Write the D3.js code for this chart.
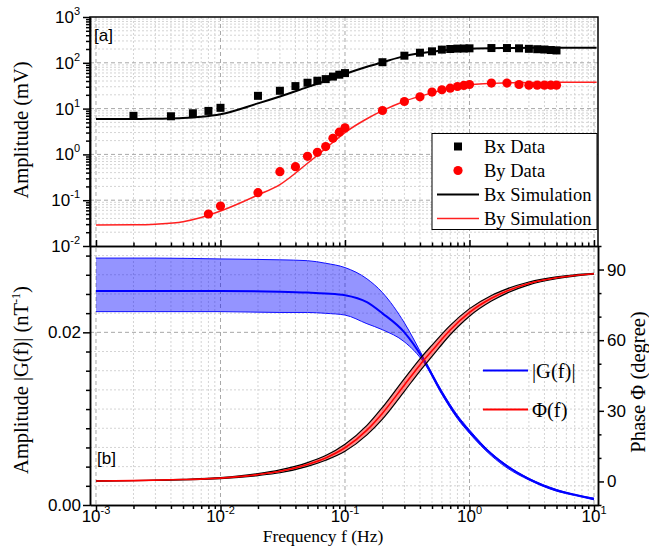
<!DOCTYPE html>
<html>
<head>
<meta charset="utf-8">
<script src="https://cdn.jsdelivr.net/npm/d3@7/dist/d3.min.js"></script>
<style>
  body { margin: 0; background: #fff; }
  svg { display: block; }
</style>
</head>
<body>
<div id="zone"></div>
<script>
// ---------- données ----------

// panneau [a] : points mesurés
var freqData = [0.002, 0.004, 0.006, 0.008, 0.01, 0.02, 0.03, 0.04, 0.05, 0.06, 0.07, 0.08, 0.09, 0.1,
                0.2, 0.3, 0.4, 0.5, 0.6, 0.7, 0.8, 0.9, 1, 1.5, 2, 2.5, 3, 3.5, 4, 4.5, 5];
var ampBx = [6.95, 6.8, 7.9, 8.9, 10.4, 19, 24.5, 31, 36.7, 40.6, 44, 50, 55, 59.6,
             103, 143, 166, 178, 194, 200, 204, 205, 207, 210, 210, 207, 202, 198, 195, 190, 186];
var freqBy = [0.008, 0.01, 0.02, 0.03, 0.04, 0.05, 0.06, 0.07, 0.08, 0.09, 0.1,
              0.2, 0.3, 0.4, 0.5, 0.6, 0.7, 0.8, 0.9, 1, 1.5, 2, 2.5, 3, 3.5, 4, 4.5, 5];
var ampBy = [0.05, 0.0746, 0.146, 0.42, 0.54, 0.91, 1.11, 1.48, 2.25, 3.05, 3.8,
             9.1, 14.3, 18.1, 22.9, 25.8, 27.9, 30.4, 32, 33.6, 36, 36, 33.6, 32.5, 32.5, 32.5, 32.5, 32.5];

// panneau [a] : courbes simulées
var freqSim = [0.001, 0.002, 0.003, 0.005, 0.007, 0.01, 0.02, 0.03, 0.05, 0.07, 0.1,
               0.15, 0.2, 0.3, 0.5, 0.7, 1, 2, 3, 5, 10.5];
var simBx = [5.9, 5.9, 6.0, 6.2, 6.6, 7.5, 13, 18.4, 29.5, 40, 57,
             82, 103, 140, 174, 192, 202, 210, 212, 213, 213];
var simBy = [0.0286, 0.029, 0.030, 0.034, 0.042, 0.058, 0.13, 0.22, 0.64, 1.35, 3.0,
             6.0, 9.0, 14.5, 22, 28, 33, 36.5, 37.3, 37.6, 37.8];

// panneau [b] : |G(f)| avec sa bande
var freqG = [0.001, 0.003, 0.01, 0.03, 0.05, 0.07, 0.1, 0.15, 0.2, 0.3, 0.43, 0.6, 0.8, 1,
             1.5, 2, 3, 5, 7, 10];
var gMid = [0.0248, 0.0248, 0.0248, 0.0247, 0.0246, 0.0245, 0.0243, 0.0235, 0.0222, 0.0200, 0.0168,
            0.0130, 0.0102, 0.0085, 0.0059, 0.0045, 0.0030, 0.0017, 0.0012, 0.0007];
var gHaut = [0.0286, 0.0286, 0.0285, 0.0284, 0.0283, 0.0280, 0.0275, 0.0262, 0.0246, 0.0211, 0.0170,
             0.0132, 0.0104, 0.0087, 0.0060, 0.0046, 0.0031, 0.0018, 0.0012, 0.0008];
var gBas = [0.0224, 0.0224, 0.0224, 0.0223, 0.0223, 0.0222, 0.0220, 0.0210, 0.0203, 0.0189, 0.0165,
            0.0128, 0.0100, 0.0083, 0.0057, 0.0043, 0.0029, 0.0016, 0.0011, 0.0006];

// panneau [b] : phase avec sa bande
var freqPhase = [0.001, 0.002, 0.005, 0.01, 0.02, 0.03, 0.05, 0.07, 0.1, 0.15, 0.2, 0.3, 0.4, 0.5,
                 0.7, 1, 1.5, 2, 3, 5, 7, 10];
var phaseMid = [0.2, 0.35, 0.8, 1.4, 2.9, 4.3, 7.2, 10.0, 14.3, 21.8, 29.0, 41.0, 49.5, 55.5,
                64.3, 71.8, 77.8, 80.9, 84.1, 86.5, 87.5, 88.2];
var phaseHaut = [0.22, 0.4, 0.9, 1.6, 3.3, 4.9, 8.0, 11.0, 15.8, 23.8, 31.5, 43.7, 52.1, 57.9,
                 66.3, 73.4, 79.0, 81.8, 84.7, 86.9, 87.8, 88.4];
var phaseBas = [0.18, 0.3, 0.7, 1.2, 2.5, 3.7, 6.4, 9.0, 12.8, 19.8, 26.5, 38.3, 46.9, 53.1,
                62.3, 70.2, 76.6, 80.0, 83.5, 86.1, 87.2, 88.0];

// graduations
var decadesX = [-3, -2, -1, 0, 1];
var decadesA = [-2, -1, 0, 1, 2, 3];
var ticksG = [0, 0.02];
var labelsG = ["0.00", "0.02"];
var ticksPhase = [0, 30, 60, 90];
var legendeA = ["Bx Data", "By Data", "Bx Simulation", "By Simulation"];
var legendeB = ["|G(f)|", "\u03A6(f)"];

(function() {
  "use strict";

  var largeur = 649, hauteur = 547;
  var gauche = 90, droite = 598;
  var hautA = 17, basA = 246;   // panneau [a]
  var hautB = 246, basB = 505;  // panneau [b]

  var policeSans = "'Liberation Sans', Arial, sans-serif";
  var policeSerif = "'Liberation Serif', 'Times New Roman', 'DejaVu Serif', serif";

  var svg = d3.select("#zone").append("svg")
    .attr("width", largeur)
    .attr("height", hauteur);

  // échelles
  var x = d3.scaleLog().domain([0.000895, 10.77]).range([gauche, droite]);
  var yA = d3.scaleLog().domain([0.01, 1000]).range([basA, hautA]);
  var yG = d3.scaleLinear().domain([0, 0.03]).range([basB, hautB]);
  var yP = d3.scaleLinear().domain([-10, 100]).range([basB, hautB]);

  var majeursX = decadesX.map(function(k) { return Math.pow(10, k); });
  var majeursA = decadesA.map(function(k) { return Math.pow(10, k); });
  var mineursX = mineursLog(-4, 1, x.domain());
  var mineursA = mineursLog(-2, 3, yA.domain());
  var pasG = 0.02 / 9;
  var mineursG = d3.range(1, 14).map(function(i) { return i * pasG; }).filter(function(v) { return Math.abs(v - 0.02) > 1e-6; });
  var mineursP = d3.range(-10, 101, 10).filter(function(v) { return ticksPhase.indexOf(v) < 0; });

  // ---------- grilles ----------
  var grille = svg.append("g").attr("id", "grille");
  grilleV(grille, mineursX, hautA, basB, "#d4d4d4", "2,2");
  grilleV(grille, majeursX, hautA, basB, "#a8a8a8", "4,3");
  grilleH(grille, mineursA.map(yA), "#d4d4d4", "2,2");
  grilleH(grille, majeursA.slice(1, -1).map(yA), "#a8a8a8", "4,3");
  grilleH(grille, mineursG.map(yG), "#d4d4d4", "2,2");
  grilleH(grille, [yG(0.02)], "#a8a8a8", "4,3");

  // ---------- panneau [a] ----------
  var ligneA = function(valeurs) {
    return d3.line()
      .x(function(d, i) { return x(freqSim[i]); })
      .y(function(d) { return yA(d); })
      .curve(d3.curveMonotoneX)(valeurs);
  };
  svg.append("path").attr("d", ligneA(simBx)).attr("fill", "none").attr("stroke", "#000").attr("stroke-width", 2);
  svg.append("path").attr("d", ligneA(simBy)).attr("fill", "none").attr("stroke", "#ff2020").attr("stroke-width", 1.5);

  svg.append("g").selectAll("rect")
    .data(ampBx).enter().append("rect")
    .attr("x", function(d, i) { return x(freqData[i]) - 4; })
    .attr("y", function(d) { return yA(d) - 4; })
    .attr("width", 8).attr("height", 8)
    .attr("fill", "#000");

  svg.append("g").selectAll("circle")
    .data(ampBy).enter().append("circle")
    .attr("cx", function(d, i) { return x(freqBy[i]); })
    .attr("cy", function(d) { return yA(d); })
    .attr("r", 4.6)
    .attr("fill", "#ff0000");

  // ---------- panneau [b] ----------
  var bandeG = d3.area()
    .x(function(d, i) { return x(freqG[i]); })
    .y0(function(d, i) { return yG(gBas[i]); })
    .y1(function(d) { return yG(d); })
    .curve(d3.curveMonotoneX);
  var ligneG = d3.line()
    .x(function(d, i) { return x(freqG[i]); })
    .y(function(d) { return yG(d); })
    .curve(d3.curveMonotoneX);

  svg.append("path").attr("d", bandeG(gHaut)).attr("fill", "#0000ff").attr("fill-opacity", 0.42);
  svg.append("path").attr("d", ligneG(gHaut)).attr("fill", "none").attr("stroke", "#1010ff").attr("stroke-width", 1);
  svg.append("path").attr("d", ligneG(gBas)).attr("fill", "none").attr("stroke", "#1010ff").attr("stroke-width", 1);
  svg.append("path").attr("d", ligneG(gMid)).attr("fill", "none").attr("stroke", "#0000ff").attr("stroke-width", 2);

  var bandeP = d3.area()
    .x(function(d, i) { return x(freqPhase[i]); })
    .y0(function(d, i) { return yP(phaseBas[i]); })
    .y1(function(d) { return yP(d); })
    .curve(d3.curveMonotoneX);
  var ligneP = d3.line()
    .x(function(d, i) { return x(freqPhase[i]); })
    .y(function(d) { return yP(d); })
    .curve(d3.curveMonotoneX);

  svg.append("path").attr("d", bandeP(phaseHaut)).attr("fill", "#ff0000").attr("fill-opacity", 0.45);
  svg.append("path").attr("d", ligneP(phaseHaut)).attr("fill", "none").attr("stroke", "#000").attr("stroke-width", 1.2);
  svg.append("path").attr("d", ligneP(phaseBas)).attr("fill", "none").attr("stroke", "#000").attr("stroke-width", 1.2);
  svg.append("path").attr("d", ligneP(phaseMid)).attr("fill", "none").attr("stroke", "#ff0000").attr("stroke-width", 1.6);

  // ---------- axes ----------
  // panneau [a] gauche
  axe(d3.axisLeft(yA).tickValues(majeursA).tickSize(7), gauche, 0);
  axe(d3.axisLeft(yA).tickValues(mineursA).tickSize(4), gauche, 0);
  // axe partagé entre les deux panneaux, graduations vers le haut
  axe(d3.axisTop(x).tickValues(majeursX).tickSize(6), 0, basA);
  axe(d3.axisTop(x).tickValues(mineursX).tickSize(3.5), 0, basA);
  // panneau [b]
  axe(d3.axisBottom(x).tickValues(majeursX).tickSize(7), 0, basB);
  axe(d3.axisBottom(x).tickValues(mineursX).tickSize(4), 0, basB);
  axe(d3.axisLeft(yG).tickValues(ticksG).tickSize(7), gauche, 0);
  axe(d3.axisLeft(yG).tickValues(mineursG).tickSize(4), gauche, 0);
  axe(d3.axisRight(yP).tickValues(ticksPhase).tickSize(6), droite, 0);
  axe(d3.axisRight(yP).tickValues(mineursP).tickSize(3.5), droite, 0);

  // cadre du haut
  svg.append("path")
    .attr("d", "M" + gauche + "," + basA + "V" + hautA + "H" + droite + "V" + basA)
    .attr("fill", "none").attr("stroke", "#000").attr("stroke-width", 1.5);

  // étiquettes des graduations
  decadesA.forEach(function(k) {
    puissance(gauche - 10, yA(Math.pow(10, k)) + 6, k, "end");
  });
  decadesX.forEach(function(k) {
    puissance(x(Math.pow(10, k)), basB + 17, k, "middle");
  });
  ticksG.forEach(function(v, i) {
    texte(gauche - 9, yG(v) + 6, labelsG[i], policeSans, 17).attr("text-anchor", "end");
  });
  ticksPhase.forEach(function(v) {
    texte(droite + 9, yP(v) + 6, v, policeSans, 17);
  });

  // titres des axes
  texte(0, 0, "Amplitude (mV)", policeSerif, 20.5)
    .attr("transform", "translate(28,130) rotate(-90)")
    .attr("text-anchor", "middle");

  var titreG = texte(0, 0, "", policeSerif, 20.5)
    .attr("transform", "translate(28,380) rotate(-90)")
    .attr("text-anchor", "middle");
  titreG.append("tspan").text("Amplitude |G(f)| (nT");
  titreG.append("tspan").attr("dy", -8).style("font-size", "12px").text("-1");
  titreG.append("tspan").attr("dy", 8).text(")");

  texte(0, 0, "Phase \u03A6 (degree)", policeSerif, 20.5)
    .attr("transform", "translate(645,382) rotate(-90)")
    .attr("text-anchor", "middle");

  texte(323, 542, "Frequency f (Hz)", policeSerif, 17.5)
    .attr("text-anchor", "middle");

  // repères [a] et [b]
  texte(94, 41, "[a]", policeSans, 17);
  texte(97, 464, "[b]", policeSans, 17);

  // ---------- légende [a] ----------
  var legA = svg.append("g").attr("id", "legendeA");
  legA.append("rect")
    .attr("x", 432).attr("y", 133.5).attr("width", 165).attr("height", 96)
    .attr("fill", "#fff").attr("stroke", "#000").attr("stroke-width", 1);
  var lignesLeg = [146.5, 170.5, 194.5, 218.5];
  legA.append("rect").attr("x", 454).attr("y", lignesLeg[0] - 4).attr("width", 8).attr("height", 8).attr("fill", "#000");
  legA.append("circle").attr("cx", 458).attr("cy", lignesLeg[1]).attr("r", 4.6).attr("fill", "#ff0000");
  legA.append("line").attr("x1", 437).attr("x2", 479).attr("y1", lignesLeg[2]).attr("y2", lignesLeg[2])
    .attr("stroke", "#000").attr("stroke-width", 2);
  legA.append("line").attr("x1", 437).attr("x2", 479).attr("y1", lignesLeg[3]).attr("y2", lignesLeg[3])
    .attr("stroke", "#ff2020").attr("stroke-width", 1.5);
  legendeA.forEach(function(t, i) {
    legA.append("text").attr("x", 484).attr("y", lignesLeg[i] + 6)
      .style("font-family", policeSerif).style("font-size", "18.5px").text(t);
  });

  // ---------- légende [b] ----------
  var legB = svg.append("g").attr("id", "legendeB");
  var lignesLegB = [370.5, 409.5];
  legB.append("line").attr("x1", 483).attr("x2", 528).attr("y1", lignesLegB[0]).attr("y2", lignesLegB[0])
    .attr("stroke", "#0000ff").attr("stroke-width", 2);
  legB.append("line").attr("x1", 483).attr("x2", 528).attr("y1", lignesLegB[1]).attr("y2", lignesLegB[1])
    .attr("stroke", "#ff0000").attr("stroke-width", 2);
  legendeB.forEach(function(t, i) {
    legB.append("text").attr("x", 532).attr("y", lignesLegB[i] + 7)
      .style("font-family", policeSerif).style("font-size", "20.5px").text(t);
  });

  /**
  * Liste des graduations secondaires (2..9 x 10^k) dans le domaine
  */
  function mineursLog(kMin, kMax, domaine) {
    var liste = [];
    for (var k = kMin; k <= kMax; k++) {
      for (var m = 2; m <= 9; m++) {
        var v = m * Math.pow(10, k);
        if (v > domaine[0] * 1.02 && v < domaine[1]) { liste.push(v); }
      }
    }
    return liste;
  }

  function grilleV(g, valeurs, y1, y2, couleur, tirets) {
    g.selectAll(null).data(valeurs).enter().append("line")
      .attr("x1", function(d) { return x(d); }).attr("x2", function(d) { return x(d); })
      .attr("y1", y1).attr("y2", y2)
      .attr("stroke", couleur).attr("stroke-width", 1).attr("stroke-dasharray", tirets);
  }

  function grilleH(g, positions, couleur, tirets) {
    g.selectAll(null).data(positions).enter().append("line")
      .attr("x1", gauche).attr("x2", droite)
      .attr("y1", function(d) { return d; }).attr("y2", function(d) { return d; })
      .attr("stroke", couleur).attr("stroke-width", 1).attr("stroke-dasharray", tirets);
  }

  // dessine un axe d3 sans étiquettes
  function axe(generateur, dx, dy) {
    var g = svg.append("g")
      .attr("transform", "translate(" + dx + "," + dy + ")")
      .call(generateur.tickFormat("").tickSizeOuter(0));
    g.selectAll("path, line").attr("stroke", "#000").attr("stroke-width", 1.5);
    return g;
  }

  // texte simple
  function texte(px, py, contenu, police, taille) {
    return svg.append("text")
      .attr("x", px).attr("y", py)
      .style("font-family", police)
      .style("font-size", taille + "px")
      .attr("fill", "#000")
      .text(contenu);
  }

  // étiquette 10^k avec exposant
  function puissance(px, py, k, ancre) {
    var t = texte(px, py, "", policeSans, 17).attr("text-anchor", ancre);
    t.append("tspan").text("10");
    t.append("tspan").attr("dy", -8).style("font-size", "11px").text(k);
  }

})();
</script>
</body>
</html>
